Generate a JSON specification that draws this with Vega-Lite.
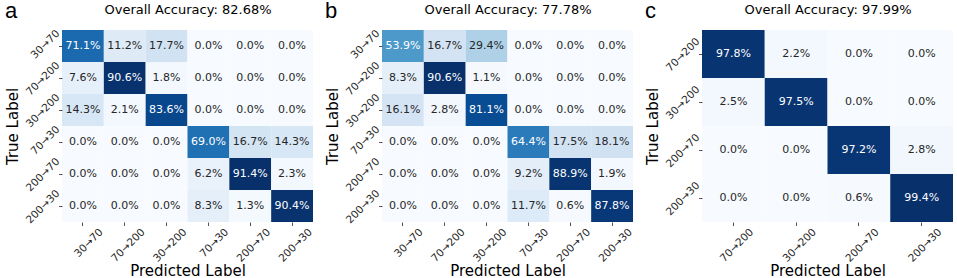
{
  "$schema": "https://vega.github.io/schema/vega-lite/v6.json",
  "padding": {"left": 5, "top": 0, "right": 4, "bottom": 0},
  "spacing": 69,
  "bounds": "flush",
  "datasets": {
    "a": [
      {"t": "30→70", "p": "30→70", "v": 0.711}, {"t": "30→70", "p": "70→200", "v": 0.112}, {"t": "30→70", "p": "30→200", "v": 0.177}, {"t": "30→70", "p": "70→30", "v": 0.0}, {"t": "30→70", "p": "200→70", "v": 0.0}, {"t": "30→70", "p": "200→30", "v": 0.0},
      {"t": "70→200", "p": "30→70", "v": 0.076}, {"t": "70→200", "p": "70→200", "v": 0.906}, {"t": "70→200", "p": "30→200", "v": 0.018}, {"t": "70→200", "p": "70→30", "v": 0.0}, {"t": "70→200", "p": "200→70", "v": 0.0}, {"t": "70→200", "p": "200→30", "v": 0.0},
      {"t": "30→200", "p": "30→70", "v": 0.143}, {"t": "30→200", "p": "70→200", "v": 0.021}, {"t": "30→200", "p": "30→200", "v": 0.836}, {"t": "30→200", "p": "70→30", "v": 0.0}, {"t": "30→200", "p": "200→70", "v": 0.0}, {"t": "30→200", "p": "200→30", "v": 0.0},
      {"t": "70→30", "p": "30→70", "v": 0.0}, {"t": "70→30", "p": "70→200", "v": 0.0}, {"t": "70→30", "p": "30→200", "v": 0.0}, {"t": "70→30", "p": "70→30", "v": 0.690}, {"t": "70→30", "p": "200→70", "v": 0.167}, {"t": "70→30", "p": "200→30", "v": 0.143},
      {"t": "200→70", "p": "30→70", "v": 0.0}, {"t": "200→70", "p": "70→200", "v": 0.0}, {"t": "200→70", "p": "30→200", "v": 0.0}, {"t": "200→70", "p": "70→30", "v": 0.062}, {"t": "200→70", "p": "200→70", "v": 0.914}, {"t": "200→70", "p": "200→30", "v": 0.023},
      {"t": "200→30", "p": "30→70", "v": 0.0}, {"t": "200→30", "p": "70→200", "v": 0.0}, {"t": "200→30", "p": "30→200", "v": 0.0}, {"t": "200→30", "p": "70→30", "v": 0.083}, {"t": "200→30", "p": "200→70", "v": 0.013}, {"t": "200→30", "p": "200→30", "v": 0.904}
    ],
    "b": [
      {"t": "30→70", "p": "30→70", "v": 0.539}, {"t": "30→70", "p": "70→200", "v": 0.167}, {"t": "30→70", "p": "30→200", "v": 0.294}, {"t": "30→70", "p": "70→30", "v": 0.0}, {"t": "30→70", "p": "200→70", "v": 0.0}, {"t": "30→70", "p": "200→30", "v": 0.0},
      {"t": "70→200", "p": "30→70", "v": 0.083}, {"t": "70→200", "p": "70→200", "v": 0.906}, {"t": "70→200", "p": "30→200", "v": 0.011}, {"t": "70→200", "p": "70→30", "v": 0.0}, {"t": "70→200", "p": "200→70", "v": 0.0}, {"t": "70→200", "p": "200→30", "v": 0.0},
      {"t": "30→200", "p": "30→70", "v": 0.161}, {"t": "30→200", "p": "70→200", "v": 0.028}, {"t": "30→200", "p": "30→200", "v": 0.811}, {"t": "30→200", "p": "70→30", "v": 0.0}, {"t": "30→200", "p": "200→70", "v": 0.0}, {"t": "30→200", "p": "200→30", "v": 0.0},
      {"t": "70→30", "p": "30→70", "v": 0.0}, {"t": "70→30", "p": "70→200", "v": 0.0}, {"t": "70→30", "p": "30→200", "v": 0.0}, {"t": "70→30", "p": "70→30", "v": 0.644}, {"t": "70→30", "p": "200→70", "v": 0.175}, {"t": "70→30", "p": "200→30", "v": 0.181},
      {"t": "200→70", "p": "30→70", "v": 0.0}, {"t": "200→70", "p": "70→200", "v": 0.0}, {"t": "200→70", "p": "30→200", "v": 0.0}, {"t": "200→70", "p": "70→30", "v": 0.092}, {"t": "200→70", "p": "200→70", "v": 0.889}, {"t": "200→70", "p": "200→30", "v": 0.019},
      {"t": "200→30", "p": "30→70", "v": 0.0}, {"t": "200→30", "p": "70→200", "v": 0.0}, {"t": "200→30", "p": "30→200", "v": 0.0}, {"t": "200→30", "p": "70→30", "v": 0.117}, {"t": "200→30", "p": "200→70", "v": 0.006}, {"t": "200→30", "p": "200→30", "v": 0.878}
    ],
    "c": [
      {"t": "70→200", "p": "70→200", "v": 0.978}, {"t": "70→200", "p": "30→200", "v": 0.022}, {"t": "70→200", "p": "200→70", "v": 0.0}, {"t": "70→200", "p": "200→30", "v": 0.0},
      {"t": "30→200", "p": "70→200", "v": 0.025}, {"t": "30→200", "p": "30→200", "v": 0.975}, {"t": "30→200", "p": "200→70", "v": 0.0}, {"t": "30→200", "p": "200→30", "v": 0.0},
      {"t": "200→70", "p": "70→200", "v": 0.0}, {"t": "200→70", "p": "30→200", "v": 0.0}, {"t": "200→70", "p": "200→70", "v": 0.972}, {"t": "200→70", "p": "200→30", "v": 0.028},
      {"t": "200→30", "p": "70→200", "v": 0.0}, {"t": "200→30", "p": "30→200", "v": 0.0}, {"t": "200→30", "p": "200→70", "v": 0.006}, {"t": "200→30", "p": "200→30", "v": 0.994}
    ]
  },
  "hconcat": [
    {
      "width": 251, "height": 192,
      "title": {"text": "a", "anchor": "start", "frame": "bounds", "offset": -20},
      "data": {"name": "a"},
      "layer": [
        {
          "mark": "rect",
          "encoding": {
            "x": {"field": "p", "type": "ordinal", "sort": ["30→70", "70→200", "30→200", "70→30", "200→70", "200→30"], "scale": {"paddingInner": 0, "paddingOuter": 0}, "axis": {"title": "Predicted Label", "orient": "bottom"}},
            "y": {"field": "t", "type": "ordinal", "sort": ["30→70", "70→200", "30→200", "70→30", "200→70", "200→30"], "scale": {"paddingInner": 0, "paddingOuter": 0}, "axis": {"title": "True Label"}},
            "color": {"field": "v", "type": "quantitative", "scale": {"domain": [0, 0.914], "range": ["#f7fbff", "#deebf7", "#c6dbef", "#9ecae1", "#6baed6", "#4292c6", "#2171b5", "#08519c", "#08306b"], "interpolate": "rgb"}, "legend": null}
          }
        },
        {
          "mark": {"type": "text", "fontSize": 11, "font": "DejaVu Sans"},
          "encoding": {
            "x": {"field": "p", "type": "ordinal", "sort": ["30→70", "70→200", "30→200", "70→30", "200→70", "200→30"], "axis": {"orient": "top", "title": "Overall Accuracy: 82.68%", "labels": false, "ticks": false, "domain": false, "titlePadding": 14, "titleFontSize": 13}},
            "y": {"field": "t", "type": "ordinal", "sort": ["30→70", "70→200", "30→200", "70→30", "200→70", "200→30"]},
            "text": {"field": "v", "type": "quantitative", "format": ".1%"},
            "color": {"condition": {"test": "datum.v > 0.45", "value": "#ffffff"}, "value": "#262626"}
          }
        }
      ],
      "resolve": {"axis": {"x": "independent"}, "scale": {"color": "independent"}}
    },
    {
      "width": 251, "height": 192,
      "title": {"text": "b", "anchor": "start", "frame": "bounds", "offset": -20},
      "data": {"name": "b"},
      "layer": [
        {
          "mark": "rect",
          "encoding": {
            "x": {"field": "p", "type": "ordinal", "sort": ["30→70", "70→200", "30→200", "70→30", "200→70", "200→30"], "scale": {"paddingInner": 0, "paddingOuter": 0}, "axis": {"title": "Predicted Label", "orient": "bottom"}},
            "y": {"field": "t", "type": "ordinal", "sort": ["30→70", "70→200", "30→200", "70→30", "200→70", "200→30"], "scale": {"paddingInner": 0, "paddingOuter": 0}, "axis": {"title": "True Label"}},
            "color": {"field": "v", "type": "quantitative", "scale": {"domain": [0, 0.906], "range": ["#f7fbff", "#deebf7", "#c6dbef", "#9ecae1", "#6baed6", "#4292c6", "#2171b5", "#08519c", "#08306b"], "interpolate": "rgb"}, "legend": null}
          }
        },
        {
          "mark": {"type": "text", "fontSize": 11, "font": "DejaVu Sans"},
          "encoding": {
            "x": {"field": "p", "type": "ordinal", "sort": ["30→70", "70→200", "30→200", "70→30", "200→70", "200→30"], "axis": {"orient": "top", "title": "Overall Accuracy: 77.78%", "labels": false, "ticks": false, "domain": false, "titlePadding": 14, "titleFontSize": 13}},
            "y": {"field": "t", "type": "ordinal", "sort": ["30→70", "70→200", "30→200", "70→30", "200→70", "200→30"]},
            "text": {"field": "v", "type": "quantitative", "format": ".1%"},
            "color": {"condition": {"test": "datum.v > 0.45", "value": "#ffffff"}, "value": "#262626"}
          }
        }
      ],
      "resolve": {"axis": {"x": "independent"}, "scale": {"color": "independent"}}
    },
    {
      "width": 251, "height": 192,
      "title": {"text": "c", "anchor": "start", "frame": "bounds", "offset": -20},
      "data": {"name": "c"},
      "layer": [
        {
          "mark": "rect",
          "encoding": {
            "x": {"field": "p", "type": "ordinal", "sort": ["70→200", "30→200", "200→70", "200→30"], "scale": {"paddingInner": 0, "paddingOuter": 0}, "axis": {"title": "Predicted Label", "orient": "bottom"}},
            "y": {"field": "t", "type": "ordinal", "sort": ["70→200", "30→200", "200→70", "200→30"], "scale": {"paddingInner": 0, "paddingOuter": 0}, "axis": {"title": "True Label"}},
            "color": {"field": "v", "type": "quantitative", "scale": {"domain": [0, 0.994], "range": ["#f7fbff", "#deebf7", "#c6dbef", "#9ecae1", "#6baed6", "#4292c6", "#2171b5", "#08519c", "#08306b"], "interpolate": "rgb"}, "legend": null}
          }
        },
        {
          "mark": {"type": "text", "fontSize": 11, "font": "DejaVu Sans"},
          "encoding": {
            "x": {"field": "p", "type": "ordinal", "sort": ["70→200", "30→200", "200→70", "200→30"], "axis": {"orient": "top", "title": "Overall Accuracy: 97.99%", "labels": false, "ticks": false, "domain": false, "titlePadding": 14, "titleFontSize": 13}},
            "y": {"field": "t", "type": "ordinal", "sort": ["70→200", "30→200", "200→70", "200→30"]},
            "text": {"field": "v", "type": "quantitative", "format": ".1%"},
            "color": {"condition": {"test": "datum.v > 0.45", "value": "#ffffff"}, "value": "#262626"}
          }
        }
      ],
      "resolve": {"axis": {"x": "independent"}, "scale": {"color": "independent"}}
    }
  ],
  "resolve": {"scale": {"color": "independent", "x": "independent", "y": "independent"}},
  "config": {
    "view": {"stroke": null},
    "title": {"font": "Liberation Sans", "fontSize": 22, "fontWeight": "normal", "color": "#000000"},
    "axis": {
      "domain": false,
      "labelFont": "DejaVu Sans", "labelFontSize": 10.5, "labelColor": "#262626", "labelAngle": -45, "labelPadding": 2,
      "tickColor": "#262626", "tickSize": 3.5, "tickWidth": 0.8,
      "titleFont": "DejaVu Sans", "titleFontSize": 15, "titleFontWeight": "normal", "titleColor": "#000000", "titlePadding": 3
    },
    "axisLeft": {"labelAlign": "right", "labelBaseline": "middle", "labelOffset": -14, "labelPadding": 1, "titlePadding": 4},
    "axisBottom": {"labelAlign": "right", "labelBaseline": "top", "labelOffset": 15, "labelPadding": 1, "titlePadding": 0}
  }
}
